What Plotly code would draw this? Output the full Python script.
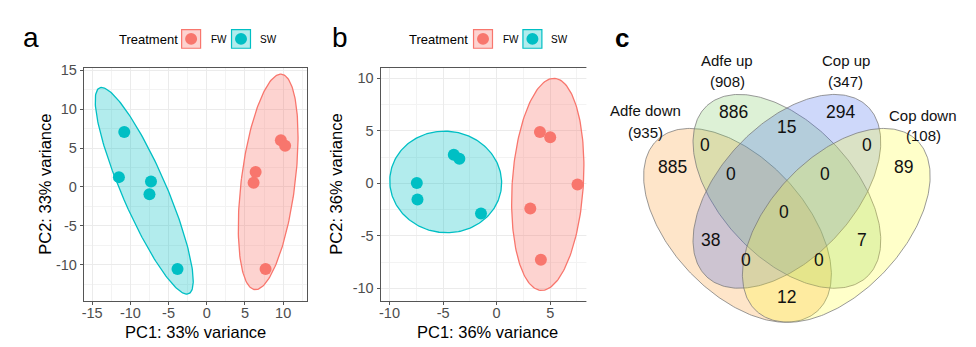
import numpy as np
import plotly.graph_objects as go

# ---------------- data ----------------
treatments = ["FW", "SW"]

# panel a (PC1 33%, PC2 33%)
a_fw_pc1 = [9.7, 10.26, 6.4, 6.13, 7.7]
a_fw_pc2 = [6.0, 5.3, 1.93, 0.54, -10.55]
a_sw_pc1 = [-10.8, -11.5, -7.3, -7.5, -3.83]
a_sw_pc2 = [7.07, 1.26, 0.7, -0.94, -10.55]
a_var = [33, 33]

# panel b (PC1 36%, PC2 36%)
b_fw_pc1 = [4.04, 5.0, 7.55, 3.14, 4.13]
b_fw_pc2 = [4.9, 4.4, -0.1, -2.4, -7.28]
b_sw_pc1 = [-4.0, -3.48, -7.45, -7.39, -1.46]
b_sw_pc2 = [2.72, 2.34, 0.03, -1.53, -2.88]
b_var = [36, 36]

# panel c (Venn)
venn_sets = ["Adfe down", "Adfe up", "Cop up", "Cop down"]
venn_totals = [935, 908, 347, 108]
venn_regions = ["1", "2", "3", "4", "12", "23", "34", "123", "234",
                "1234", "13", "24", "134", "124", "14"]
venn_counts = [885, 886, 294, 89, 0, 15, 0, 0, 0, 0, 38, 7, 0, 0, 12]

# ---------------- style / layout ----------------
W, H = 976, 347
FONT = "Liberation Sans, Arial, sans-serif"
COL = {"FW": "#F8766D", "SW": "#00BFC4"}
FILL = {"FW": "rgba(248,118,109,0.32)", "SW": "rgba(0,191,196,0.30)"}

def px(x):
    return x / W

def py(y):
    return 1 - y / H

def conf_ellipse(x, y, r=2.0, n=200):
    pts = np.column_stack([x, y])
    m = pts.mean(axis=0)
    C = np.cov(pts.T)
    w, V = np.linalg.eigh(C)
    t = np.linspace(0, 2 * np.pi, n)
    circ = np.vstack([np.cos(t), np.sin(t)])
    e = V @ (np.sqrt(w)[:, None] * circ) * r
    return m[0] + e[0], m[1] + e[1]

fig = go.Figure()

panels = [
    ("x", "y", 2.08, {"FW": (a_fw_pc1, a_fw_pc2), "SW": (a_sw_pc1, a_sw_pc2)}),
    ("x2", "y2", 2.0, {"FW": (b_fw_pc1, b_fw_pc2), "SW": (b_sw_pc1, b_sw_pc2)}),
]
for xa, ya, rad, groups in panels:
    for t in treatments:
        ex, ey = conf_ellipse(*groups[t], r=rad)
        fig.add_trace(go.Scatter(x=ex, y=ey, mode="lines", fill="toself",
                                 fillcolor=FILL[t], line=dict(color=COL[t], width=1.3),
                                 xaxis=xa, yaxis=ya, hoverinfo="skip", showlegend=False))
    for t in treatments:
        gx, gy = groups[t]
        fig.add_trace(go.Scatter(x=gx, y=gy, mode="markers",
                                 marker=dict(color=COL[t], size=12, line=dict(width=0)),
                                 xaxis=xa, yaxis=ya, showlegend=False))

# Venn ellipses (VennDiagram-style geometry)
venn_geom = [  # cx, cy, a, b, rotation
    (0.35, 0.47, 0.35, 0.20, -45),
    (0.50, 0.57, 0.35, 0.20, -45),
    (0.50, 0.57, 0.35, 0.20, 45),
    (0.65, 0.47, 0.35, 0.20, 45),
]
venn_fill = ["rgba(251,150,40,0.25)", "rgba(120,200,90,0.25)",
             "rgba(60,100,235,0.25)", "rgba(255,255,40,0.25)"]
tt = np.linspace(0, 2 * np.pi, 300)
for (cx, cy, a, b, rot), fc in zip(venn_geom, venn_fill):
    th = np.radians(rot)
    vx = cx + a * np.cos(tt) * np.cos(th) - b * np.sin(tt) * np.sin(th)
    vy = cy + a * np.cos(tt) * np.sin(th) + b * np.sin(tt) * np.cos(th)
    fig.add_trace(go.Scatter(x=vx, y=vy, mode="lines", fill="toself", fillcolor=fc,
                             line=dict(color="rgba(120,120,120,0.75)", width=1),
                             xaxis="x3", yaxis="y3", hoverinfo="skip", showlegend=False))

venn_label_pos = {
    "1": (0.152, 0.643), "2": (0.338, 0.803), "3": (0.662, 0.803), "4": (0.853, 0.643),
    "12": (0.25, 0.706), "23": (0.5, 0.759), "34": (0.743, 0.706),
    "123": (0.331, 0.622), "234": (0.617, 0.622), "1234": (0.49, 0.508),
    "13": (0.268, 0.426), "24": (0.728, 0.426), "134": (0.376, 0.369),
    "124": (0.596, 0.369), "14": (0.5, 0.258),
}
annotations = []
for reg, cnt in zip(venn_regions, venn_counts):
    ux, uy = venn_label_pos[reg]
    annotations.append(dict(x=ux, y=uy, xref="x3", yref="y3", text=str(cnt), showarrow=False,
                            font=dict(family=FONT, size=17.5, color="#111111"),
                            xanchor="center", yanchor="middle"))

set_label_px = [(645, 106.7, 128.3), (726.7, 55, 76.7), (845.5, 55, 76.7), (923.3, 111.7, 132)]
for name, tot, (lx, ly1, ly2) in zip(venn_sets, venn_totals, set_label_px):
    annotations.append(dict(x=px(lx), y=py(ly1), xref="paper", yref="paper", text=name,
                            showarrow=False, font=dict(family=FONT, size=15, color="#111111"),
                            xanchor="center", yanchor="middle"))
    annotations.append(dict(x=px(lx), y=py(ly2), xref="paper", yref="paper", text=f"({tot})",
                            showarrow=False, font=dict(family=FONT, size=15, color="#111111"),
                            xanchor="center", yanchor="middle"))

# panel letters
for letter, lx, ly, sz, bold in [("a", 29, 32, 28, False), ("b", 339, 32, 28, False),
                                  ("c", 621, 33, 26, True)]:
    annotations.append(dict(x=px(lx), y=py(ly), xref="paper", yref="paper",
                            text=f"<b>{letter}</b>" if bold else letter, showarrow=False,
                            font=dict(family=FONT, size=sz, color="black"),
                            xanchor="center", yanchor="middle"))

# axis titles
for (cx, cy), var in [((194, 332), a_var), ((486, 332), b_var)]:
    annotations.append(dict(x=px(cx), y=py(cy), xref="paper", yref="paper",
                            text=f"PC1: {var[0]}% variance", showarrow=False,
                            font=dict(family=FONT, size=16.5, color="black"),
                            xanchor="center", yanchor="middle"))
for (cx, cy), var in [((43.5, 181.5), a_var), ((335, 181.5), b_var)]:
    annotations.append(dict(x=px(cx), y=py(cy), xref="paper", yref="paper",
                            text=f"PC2: {var[1]}% variance", showarrow=False, textangle=-90,
                            font=dict(family=FONT, size=16.5, color="black"),
                            xanchor="center", yanchor="middle"))

# legends (manual ggplot-style keys)
shapes = []
legend_layout = [  # title x (left), boxes [x0,x1], label left x
    (115, [(180, 199, 207), (230, 249, 257)]),
    (406, [(472.5, 491.5, 500), (522, 541, 548.5)]),
]
for tx, boxes in legend_layout:
    annotations.append(dict(x=px(tx), y=py(34.5), xref="paper", yref="paper", text="Treatment",
                            showarrow=False, font=dict(family=FONT, size=13, color="black"),
                            xanchor="left", yanchor="middle"))
    for t, (x0, x1, lx) in zip(treatments, boxes):
        shapes.append(dict(type="rect", xref="paper", yref="paper", x0=px(x0), x1=px(x1),
                           y0=py(43), y1=py(24), fillcolor=FILL[t],
                           line=dict(color=COL[t], width=1.2)))
        c = (x0 + x1) / 2
        shapes.append(dict(type="circle", xref="paper", yref="paper", x0=px(c - 6), x1=px(c + 6),
                           y0=py(39.5), y1=py(27.5), fillcolor=COL[t], line=dict(width=0)))
        annotations.append(dict(x=px(lx), y=py(34), xref="paper", yref="paper", text=t,
                                showarrow=False, font=dict(family=FONT, size=10, color="black"),
                                xanchor="left", yanchor="middle"))

def pca_axis(domain, rng, tickvals, standoff):
    return dict(domain=domain, range=rng, tickvals=tickvals,
                ticktext=[str(v) for v in tickvals],
                showgrid=True, gridcolor="#EBEBEB", gridwidth=1,
                minor=dict(dtick=2.5, tick0=0, showgrid=True, gridcolor="#F3F3F3", gridwidth=0.6),
                zeroline=False, showline=True, mirror=True, linecolor="#555555", linewidth=1,
                ticks="outside", ticklen=3, tickcolor="#555555", ticklabelstandoff=standoff,
                tickfont=dict(family=FONT, size=14.5, color="#4D4D4D"))

ydom = [py(300), py(63)]
fig.update_layout(
    width=W, height=H, margin=dict(l=0, r=0, t=0, b=0),
    paper_bgcolor="white", plot_bgcolor="white",
    showlegend=False,
    xaxis=dict(**pca_axis([px(82), px(306)], [-16.09, 13.17], [-15, -10, -5, 0, 5, 10], -4), anchor="y"),
    yaxis=dict(**pca_axis(ydom, [-14.64, 15.3], [-10, -5, 0, 5, 10, 15], 0), anchor="x"),
    xaxis2=dict(**pca_axis([px(379.3), px(592.7)], [-10.84, 9.04], [-10, -5, 0, 5], -4), anchor="y2"),
    yaxis2=dict(**pca_axis(ydom, [-11.19, 11.0], [-10, -5, 0, 5, 10], 0), anchor="x2"),
    xaxis3=dict(domain=[0.6, 1.0], range=[-0.1088, 1.0742], visible=False, anchor="y3"),
    yaxis3=dict(domain=[0, 1], range=[0.1122, 1.1151], visible=False, anchor="x3"),
    annotations=annotations, shapes=shapes,
)

fig.write_html("out.html")
